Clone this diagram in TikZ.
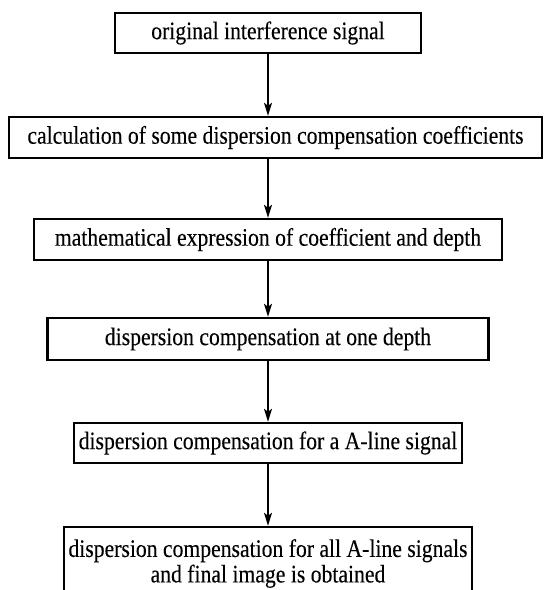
\documentclass[tikz,border=0pt]{standalone}
\usepackage{fontspec}
\setmainfont{Liberation Serif}[FakeStretch=0.86,FakeBold=0.2]
\usetikzlibrary{arrows.meta}
\begin{document}
\begin{tikzpicture}[x=1pt,y=-1pt,
  box/.style={draw, line width=2.4pt, inner sep=0pt, align=center,
    font=\fontsize{25.2}{25.5}\selectfont},
  arr/.style={-{Stealth[length=13pt,width=8pt,inset=3pt]}, line width=1.6pt}]
\useasboundingbox (0,0) rectangle (544,590);
\clip (0,0) rectangle (544,590);
\node[box, minimum width=306, minimum height=40] (b1) at (268,33) {original interference signal};
\node[box, minimum width=533, minimum height=41] (b2) at (275.5,137.5) {calculation of some dispersion compensation coefficients};
\node[box, minimum width=468, minimum height=41] (b3) at (268,239.5) {mathematical expression of coefficient and depth};
\node[box, minimum width=441, minimum height=42] (b4) at (268,339) {dispersion compensation at one depth};
\node[box, minimum width=388, minimum height=40] (b5) at (268,443) {dispersion compensation for a A-line signal};
\node[box, minimum width=408, minimum height=73] (b6) at (268,563.5) {dispersion compensation for all A-line signals\\and final image is obtained};
\draw[arr] (b1.south) -- (b1.south |- b2.north);
\draw[arr] (b1.south |- b2.south) -- (b3.north);
\draw[arr] (b3.south) -- (b4.north);
\draw[arr] (b4.south) -- (b5.north);
\draw[arr] (b5.south) -- (b6.north);
\end{tikzpicture}
\end{document}
